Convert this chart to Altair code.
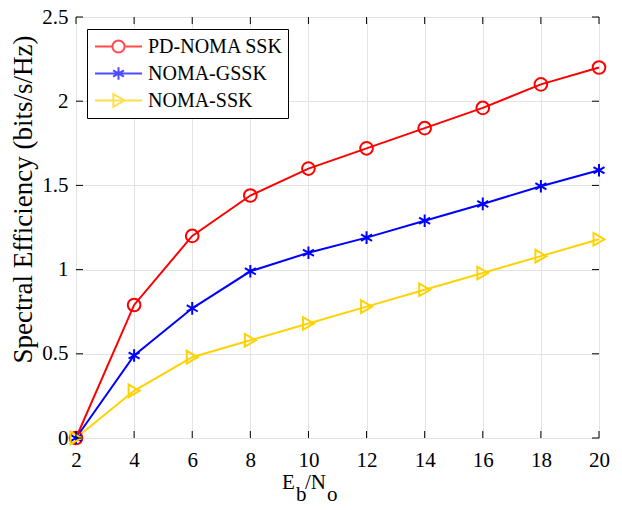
import altair as alt
import pandas as pd

# ---- data ----
x_vals = [2, 4, 6, 8, 10, 12, 14, 16, 18, 20]
pd_noma_ssk = [0.0, 0.79, 1.20, 1.44, 1.60, 1.72, 1.84, 1.96, 2.10, 2.20]
noma_gssk = [0.0, 0.49, 0.77, 0.99, 1.10, 1.19, 1.29, 1.39, 1.495, 1.59]
noma_ssk = [0.0, 0.28, 0.48, 0.58, 0.68, 0.78, 0.88, 0.98, 1.08, 1.18]
series_names = ["PD-NOMA SSK", "NOMA-GSSK", "NOMA-SSK"]
x_ticks = [2, 4, 6, 8, 10, 12, 14, 16, 18, 20]
y_ticks = [0, 0.5, 1, 1.5, 2, 2.5]
y_title = "Spectral Efficiency (bits/s/Hz)"

# ---- styling ----
colors = ["#FF0000", "#0000FF", "#FFD200"]
FONT = "Liberation Serif"
W, H = 523, 421
marker_shapes = [
    "circle",
    "M0,-1L0,1M-0.87,-0.5L0.87,0.5M-0.87,0.5L0.87,-0.5",
    "triangle-right",
]
legend_shapes = [
    "M-1,0L-0.26,0M0.26,0L1,0M-0.26,0A0.26,0.26,0,1,1,0.26,0A0.26,0.26,0,1,1,-0.26,0",
    "M-1,0L1,0M0,-0.27L0,0.27M-0.23,-0.135L0.23,0.135M-0.23,0.135L0.23,-0.135",
    "M-1,0L1,0M-0.22,-0.27L0.26,0L-0.22,0.27Z",
]

rows = []
for name, vals in zip(series_names, [pd_noma_ssk, noma_gssk, noma_ssk]):
    for xv, yv in zip(x_vals, vals):
        rows.append({"snr": xv, "se": yv, "series": name})
df = pd.DataFrame(rows)

xscale = alt.Scale(domain=[2, 20], nice=False, zero=False)
yscale = alt.Scale(domain=[0, 2.5], nice=False)

x_axis = alt.Axis(values=x_ticks, title=None, grid=True, ticks=False, tickSize=0,
                  domain=False, labelPadding=11, labelFontSize=21, format="d",
                  labelFlush=False, labelFont=FONT, labelColor="black",
                  gridColor="#e3e3e3")
y_axis = alt.Axis(values=y_ticks, title=y_title, grid=True, ticks=False, tickSize=0,
                  domain=False, labelPadding=8, labelFontSize=21, format="~g",
                  labelFlush=False, labelFont=FONT, labelColor="black",
                  gridColor="#e3e3e3",
                  titleFont=FONT, titleFontSize=27, titleFontWeight="normal",
                  titleColor="black", titleX=-39, titleY=182, titleBaseline="bottom")


def X(field):
    return alt.X(field, scale=xscale, axis=x_axis)


def Y(field):
    return alt.Y(field, scale=yscale, axis=y_axis)


color_plain = alt.Color("series:N", scale=alt.Scale(domain=series_names, range=colors), legend=None)

lines = alt.Chart(df).mark_line(strokeWidth=2).encode(
    x=X("snr:Q"), y=Y("se:Q"), color=color_plain
)

points = alt.Chart(df).mark_point(filled=False, size=160, strokeWidth=2, opacity=1).encode(
    x=X("snr:Q"), y=Y("se:Q"), color=color_plain,
    shape=alt.Shape("series:N", scale=alt.Scale(domain=series_names, range=marker_shapes), legend=None),
)

leg = alt.Legend(
    title=None, orient="none", legendX=11, legendY=12, padding=4,
    strokeColor="black", fillColor="white", symbolSize=2209, clipHeight=27,
    symbolStrokeWidth=2, symbolOffset=3, labelOffset=5, rowPadding=0,
    labelFont=FONT, labelFontSize=20, labelColor="black", labelLimit=300,
)
legend_layer = alt.Chart(df).transform_filter("false").mark_point(filled=False, strokeWidth=2).encode(
    x=X("snr:Q"), y=Y("se:Q"),
    color=alt.Color("series:N", scale=alt.Scale(domain=series_names, range=colors), legend=leg),
    shape=alt.Shape("series:N", scale=alt.Scale(domain=series_names, range=legend_shapes), legend=leg),
)

# inward tick marks on all four sides
xt = pd.DataFrame({"snr": x_ticks})
yt = pd.DataFrame({"se": y_ticks})
ticks_bottom = alt.Chart(xt).mark_rule(color="black", strokeWidth=1).encode(
    x=X("snr:Q"), y=alt.value(H), y2=alt.value(H - 7))
ticks_top = alt.Chart(xt).mark_rule(color="black", strokeWidth=1).encode(
    x=X("snr:Q"), y=alt.value(0), y2=alt.value(7))
ticks_left = alt.Chart(yt).mark_rule(color="black", strokeWidth=1).encode(
    y=Y("se:Q"), x=alt.value(0), x2=alt.value(7))
ticks_right = alt.Chart(yt).mark_rule(color="black", strokeWidth=1).encode(
    y=Y("se:Q"), x=alt.value(W), x2=alt.value(W - 7))

# x-axis title E_b/N_o with subscripts
one = pd.DataFrame({"a": [0]})


def txt(s, px, py, size=21):
    return alt.Chart(one).mark_text(
        text=s, font=FONT, fontSize=size, color="black", align="left", baseline="alphabetic"
    ).encode(x=alt.value(px), y=alt.value(py))


title_parts = [
    txt("E", 206, 472),
    txt("b", 220, 484),
    txt("/N", 229, 472),
    txt("o", 251, 484),
]

chart = alt.layer(
    lines, points, legend_layer,
    ticks_bottom, ticks_top, ticks_left, ticks_right,
    *title_parts,
).resolve_scale(color="independent", shape="independent").properties(
    width=W, height=H,
    autosize=alt.AutoSizeParams(type="none"),
    padding={"left": 68, "top": 9, "right": 15, "bottom": 64},
).configure_view(stroke="black", strokeWidth=1).configure(background="white")

chart.save("out.html", embed_options={"renderer": "svg", "actions": False})
